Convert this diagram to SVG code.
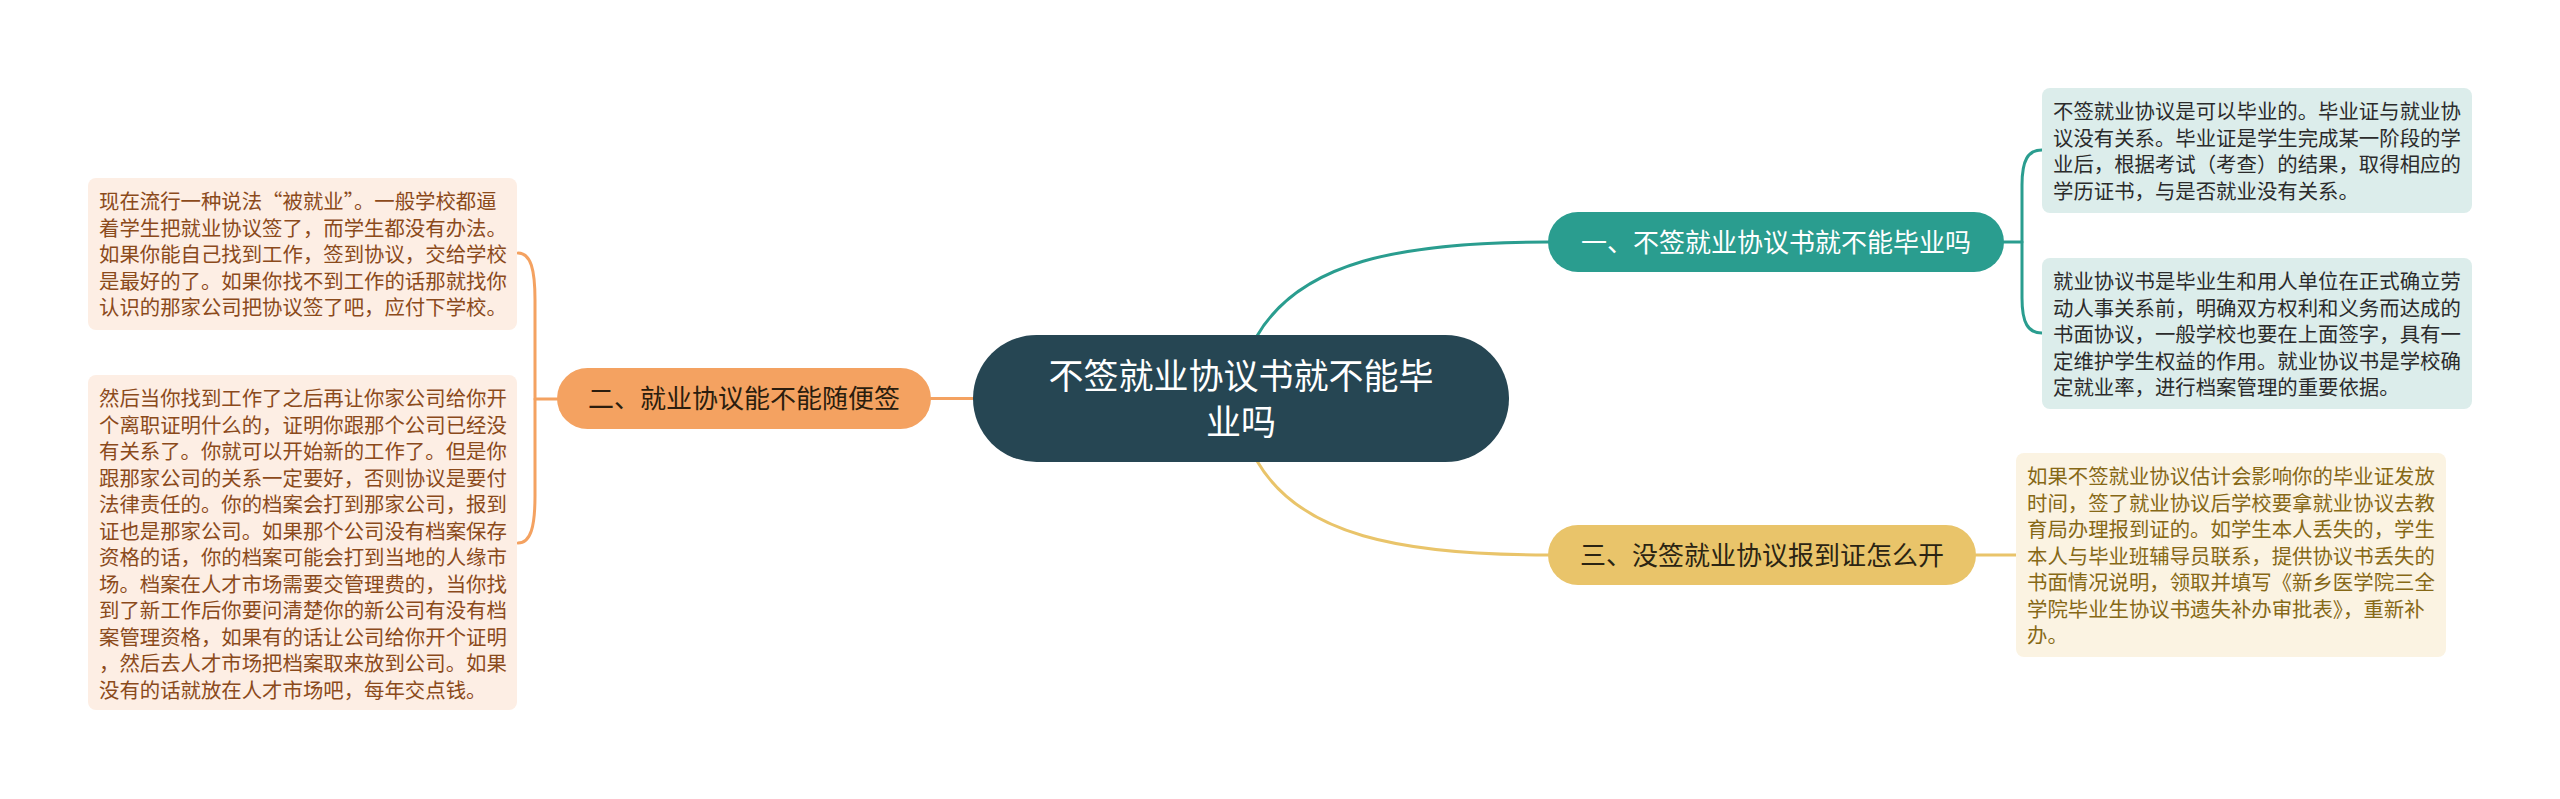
<svg xmlns="http://www.w3.org/2000/svg" width="2560" height="799" viewBox="0 0 2560 799">
<style>
text{font-family:"Noto Sans CJK SC","Noto Sans",sans-serif;}
.conn{fill:none;stroke-width:3;stroke-linecap:round;}
.teal{stroke:#2a9d8f;}
.yel{stroke:#e9c46a;}
.org{stroke:#f4a261;}
.pill{font-size:26px;text-anchor:middle;}
.lbox{fill:#fdeee4;}
.ltxt{font-size:20.4px;fill:#8b4a1b;}
.rbox{fill:#dcedeb;}
.rtxt{font-size:20.4px;fill:#2b2b2b;}
.ybox{fill:#fbf3e2;}
.ytxt{font-size:20.4px;fill:#866816;}
</style>
<rect width="2560" height="799" fill="#ffffff"/>
<g id="connectors">
<path class="conn teal" d="M1257 336 C1300 262 1400 242 1548 242"/>
<path class="conn yel" d="M1257 461 C1300 535 1400 555 1548 555"/>
<path class="conn org" d="M973 398.5 L931 398.5"/>
<path class="conn org" d="M557 399 L535 399"/>
<path class="conn org" d="M518 253 C531 253 535 270 535 300 L535 496 C535 526 531 543 518 543"/>
<path class="conn teal" d="M2004 242 L2022 242"/>
<path class="conn teal" d="M2042 150 C2028 150 2022 160 2022 185 L2022 298 C2022 323 2028 333 2042 333"/>
<path class="conn yel" d="M1976 555 L2016 555"/>
</g>
<g id="center">
<rect x="973" y="335" width="536" height="127" rx="63.5" fill="#264653"/>
<text x="1241" y="389" font-size="35" fill="#ffffff" text-anchor="middle">不签就业协议书就不能毕</text>
<text x="1241" y="435" font-size="35" fill="#ffffff" text-anchor="middle">业吗</text>
</g>
<g id="b1">
<rect x="1548" y="212" width="456" height="60" rx="30" fill="#2a9d8f"/>
<text class="pill" x="1776" y="252" fill="#ffffff">一、不签就业协议书就不能毕业吗</text>
</g>
<g id="b2">
<rect x="557" y="368" width="374" height="61" rx="30.5" fill="#f4a261"/>
<text class="pill" x="744" y="408" fill="#2b1d0e">二、就业协议能不能随便签</text>
</g>
<g id="b3">
<rect x="1548" y="525" width="428" height="60" rx="30" fill="#e9c46a"/>
<text class="pill" x="1762" y="565" fill="#2b2413">三、没签就业协议报到证怎么开</text>
</g>
<g id="r1">
<rect class="rbox" x="2042" y="88" width="430" height="125" rx="8"/>
<text class="rtxt" x="2053"><tspan x="2053" y="119">不签就业协议是可以毕业的。毕业证与就业协</tspan><tspan x="2053" y="145.5">议没有关系。毕业证是学生完成某一阶段的学</tspan><tspan x="2053" y="172">业后，根据考试（考查）的结果，取得相应的</tspan><tspan x="2053" y="198.5">学历证书，与是否就业没有关系。</tspan></text>
</g>
<g id="r2">
<rect class="rbox" x="2042" y="258" width="430" height="151" rx="8"/>
<text class="rtxt" x="2053"><tspan x="2053" y="289">就业协议书是毕业生和用人单位在正式确立劳</tspan><tspan x="2053" y="315.5">动人事关系前，明确双方权利和义务而达成的</tspan><tspan x="2053" y="342">书面协议，一般学校也要在上面签字，具有一</tspan><tspan x="2053" y="368.5">定维护学生权益的作用。就业协议书是学校确</tspan><tspan x="2053" y="395">定就业率，进行档案管理的重要依据。</tspan></text>
</g>
<g id="r3">
<rect class="ybox" x="2016" y="453" width="430" height="204" rx="8"/>
<text class="ytxt" x="2027"><tspan x="2027" y="484">如果不签就业协议估计会影响你的毕业证发放</tspan><tspan x="2027" y="510.5">时间，签了就业协议后学校要拿就业协议去教</tspan><tspan x="2027" y="537">育局办理报到证的。如学生本人丢失的，学生</tspan><tspan x="2027" y="563.5">本人与毕业班辅导员联系，提供协议书丢失的</tspan><tspan x="2027" y="590">书面情况说明，领取并填写《新乡医学院三全</tspan><tspan x="2027" y="616.5">学院毕业生协议书遗失补办审批表》，重新补</tspan><tspan x="2027" y="643">办。</tspan></text>
</g>
<g id="l1">
<rect class="lbox" x="88" y="178" width="429" height="152" rx="8"/>
<text class="ltxt" x="99"><tspan x="99" y="209">现在流行一种说法“被就业”。一般学校都逼</tspan><tspan x="99" y="235.5">着学生把就业协议签了，而学生都没有办法。</tspan><tspan x="99" y="262">如果你能自己找到工作，签到协议，交给学校</tspan><tspan x="99" y="288.5">是最好的了。如果你找不到工作的话那就找你</tspan><tspan x="99" y="315">认识的那家公司把协议签了吧，应付下学校。</tspan></text>
</g>
<g id="l2">
<rect class="lbox" x="88" y="375" width="429" height="335" rx="8"/>
<text class="ltxt" x="99"><tspan x="99" y="406">然后当你找到工作了之后再让你家公司给你开</tspan><tspan x="99" y="432.5">个离职证明什么的，证明你跟那个公司已经没</tspan><tspan x="99" y="459">有关系了。你就可以开始新的工作了。但是你</tspan><tspan x="99" y="485.5">跟那家公司的关系一定要好，否则协议是要付</tspan><tspan x="99" y="512">法律责任的。你的档案会打到那家公司，报到</tspan><tspan x="99" y="538.5">证也是那家公司。如果那个公司没有档案保存</tspan><tspan x="99" y="565">资格的话，你的档案可能会打到当地的人缘市</tspan><tspan x="99" y="591.5">场。档案在人才市场需要交管理费的，当你找</tspan><tspan x="99" y="618">到了新工作后你要问清楚你的新公司有没有档</tspan><tspan x="99" y="644.5">案管理资格，如果有的话让公司给你开个证明</tspan><tspan x="99" y="671">，然后去人才市场把档案取来放到公司。如果</tspan><tspan x="99" y="697.5">没有的话就放在人才市场吧，每年交点钱。</tspan></text>
</g>
</svg>
